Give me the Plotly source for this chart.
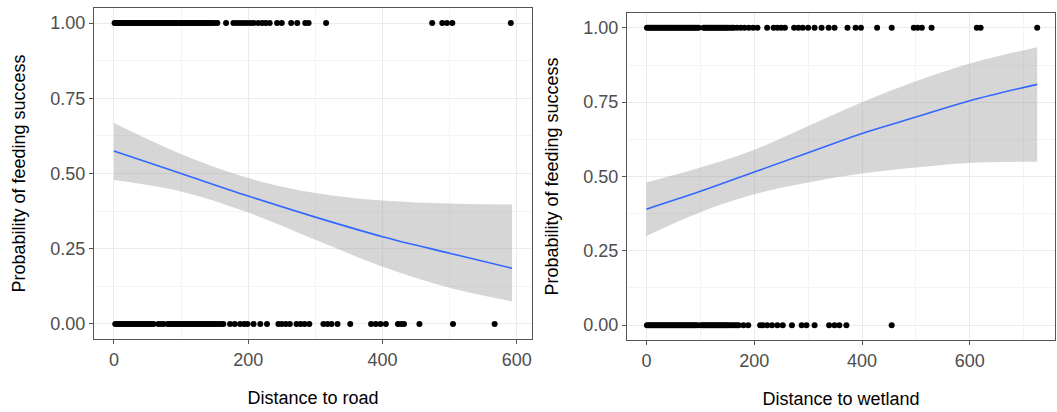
import plotly.graph_objects as go

# ---------------- data ----------------
road_success_x = [1, 3, 6, 8, 11, 14, 17, 20, 23, 26, 29, 32, 35, 38, 41, 44, 47, 50, 53, 56, 59,
                  62, 65, 68, 71, 74, 77, 80, 83, 86, 89, 92, 95, 98, 101, 104, 107, 110, 113, 116,
                  119, 122, 125, 128, 131, 134, 137, 140, 143, 146, 150, 154, 167, 178, 183, 188,
                  193, 198, 203, 208, 215, 221, 226, 232, 243, 250, 264, 273, 285, 290, 316, 474,
                  489, 496, 504, 591]
road_fail_x = [2, 5, 8, 11, 14, 17, 20, 23, 26, 29, 32, 35, 38, 41, 44, 47, 50, 53, 56, 59, 66, 70,
               74, 80, 83, 86, 89, 92, 95, 98, 101, 104, 107, 110, 113, 116, 119, 122, 125, 128,
               131, 134, 137, 140, 143, 146, 149, 152, 156, 160, 163, 173, 180, 188, 194, 199, 208,
               218, 228, 245, 250, 256, 262, 272, 278, 284, 291, 312, 318, 324, 333, 352, 383, 390,
               397, 405, 423, 428, 432, 455, 505, 567]
road_fit_x = [0, 100, 200, 300, 400, 500, 593]
road_fit_y = [0.575, 0.50, 0.425, 0.355, 0.29, 0.235, 0.185]
road_upper = [0.668, 0.565, 0.485, 0.435, 0.41, 0.40, 0.397]
road_lower = [0.478, 0.44, 0.37, 0.28, 0.19, 0.12, 0.075]

wet_success_x = [1, 4, 7, 10, 13, 16, 19, 22, 25, 28, 31, 34, 37, 40, 43, 46, 49, 52, 55, 58, 61,
                 64, 67, 70, 73, 76, 79, 82, 85, 88, 91, 94, 97, 106, 109, 112, 115, 118, 121, 124,
                 127, 130, 133, 136, 139, 142, 145, 148, 151, 155, 159, 162, 168, 175, 182, 190,
                 198, 206, 224, 236, 243, 250, 257, 274, 282, 290, 300, 312, 325, 338, 349, 373,
                 388, 398, 428, 455, 496, 503, 511, 529, 613, 620, 725]
wet_fail_x = [1, 4, 7, 10, 13, 16, 19, 22, 25, 28, 31, 34, 37, 40, 43, 46, 49, 52, 55, 58, 61, 64,
              67, 70, 73, 76, 79, 82, 85, 88, 91, 95, 101, 104, 107, 110, 113, 116, 119, 122, 125,
              128, 131, 134, 137, 140, 143, 146, 149, 152, 156, 160, 164, 168, 171, 180, 189, 211,
              216, 224, 233, 243, 253, 270, 288, 297, 312, 339, 349, 358, 371, 455]
wet_fit_x = [0, 100, 200, 300, 400, 500, 600, 725]
wet_fit_y = [0.39, 0.45, 0.515, 0.58, 0.645, 0.70, 0.755, 0.81]
wet_upper = [0.48, 0.53, 0.59, 0.67, 0.75, 0.82, 0.88, 0.935]
wet_lower = [0.30, 0.38, 0.44, 0.48, 0.51, 0.53, 0.545, 0.55]

x_titles = ["Distance to road", "Distance to wetland"]
y_title = "Probability of feeding success"
y_ticks = [0, 0.25, 0.5, 0.75, 1.0]
y_ticktext = ["0.00", "0.25", "0.50", "0.75", "1.00"]

# ---------------- styling ----------------
W, H = 1057, 412
RIBBON = "rgba(153,153,153,0.4)"
LINE = "#3366FF"
FONT = "Liberation Sans, Arial, sans-serif"

fig = go.Figure()

panels = [
    (road_success_x, road_fail_x, road_fit_x, road_fit_y, road_upper, road_lower, "x", "y"),
    (wet_success_x, wet_fail_x, wet_fit_x, wet_fit_y, wet_upper, wet_lower, "x2", "y2"),
]
for sx, fx, lx, ly, up, lo, xa, ya in panels:
    fig.add_trace(go.Scatter(x=lx, y=lo, mode="lines", line=dict(width=0, shape="spline"),
                             hoverinfo="skip", xaxis=xa, yaxis=ya, showlegend=False))
    fig.add_trace(go.Scatter(x=lx, y=up, mode="lines", fill="tonexty", fillcolor=RIBBON,
                             line=dict(width=0, shape="spline"),
                             hoverinfo="skip", xaxis=xa, yaxis=ya, showlegend=False))
    fig.add_trace(go.Scatter(x=lx, y=ly, mode="lines", line=dict(color=LINE, width=1.6, shape="spline"),
                             xaxis=xa, yaxis=ya, showlegend=False))
    fig.add_trace(go.Scatter(x=sx, y=[1] * len(sx), mode="markers",
                             marker=dict(color="black", size=6), xaxis=xa, yaxis=ya, showlegend=False))
    fig.add_trace(go.Scatter(x=fx, y=[0] * len(fx), mode="markers",
                             marker=dict(color="black", size=6), xaxis=xa, yaxis=ya, showlegend=False))

def xaxis(domain, rng, title, anchor):
    return dict(domain=domain, range=rng, anchor=anchor,
                tickvals=[0, 200, 400, 600], ticks="outside", ticklen=4, tickcolor="#555",
                tickfont=dict(size=18, color="#4d4d4d", family=FONT),
                title=dict(text=title, font=dict(size=18, color="black", family=FONT), standoff=22),
                showline=True, mirror=True, linecolor="#555", linewidth=1,
                showgrid=True, gridcolor="#ebebeb", gridwidth=1, zeroline=False,
                minor=dict(tickvals=[100, 300, 500, 700], showgrid=True, gridcolor="#f4f4f4", ticks=""))

def yaxis(domain, title, anchor):
    return dict(domain=domain, range=[-0.05, 1.05], anchor=anchor,
                tickvals=y_ticks, ticktext=y_ticktext, ticks="outside", ticklen=4, tickcolor="#555",
                tickfont=dict(size=18, color="#4d4d4d", family=FONT),
                title=dict(text=title, font=dict(size=18, color="black", family=FONT), standoff=20),
                showline=True, mirror=True, linecolor="#555", linewidth=1,
                showgrid=True, gridcolor="#ebebeb", gridwidth=1, zeroline=False,
                minor=dict(tickvals=[0.125, 0.375, 0.625, 0.875], showgrid=True, gridcolor="#f4f4f4", ticks=""))

fig.update_layout(
    width=W, height=H,
    margin=dict(l=0, r=0, t=0, b=0),
    paper_bgcolor="white", plot_bgcolor="white",
    font=dict(family=FONT),
    xaxis=xaxis([94 / W, 532 / W], [-29.65, 622.65], x_titles[0], "y"),
    yaxis=yaxis([1 - 339 / H, 1 - 8 / H], y_title, "x"),
    xaxis2=xaxis([627 / W, 1055 / W], [-36, 758], x_titles[1], "y2"),
    yaxis2=yaxis([1 - 340 / H, 1 - 13 / H], y_title, "x2"),
)

fig.write_html("out.html")
